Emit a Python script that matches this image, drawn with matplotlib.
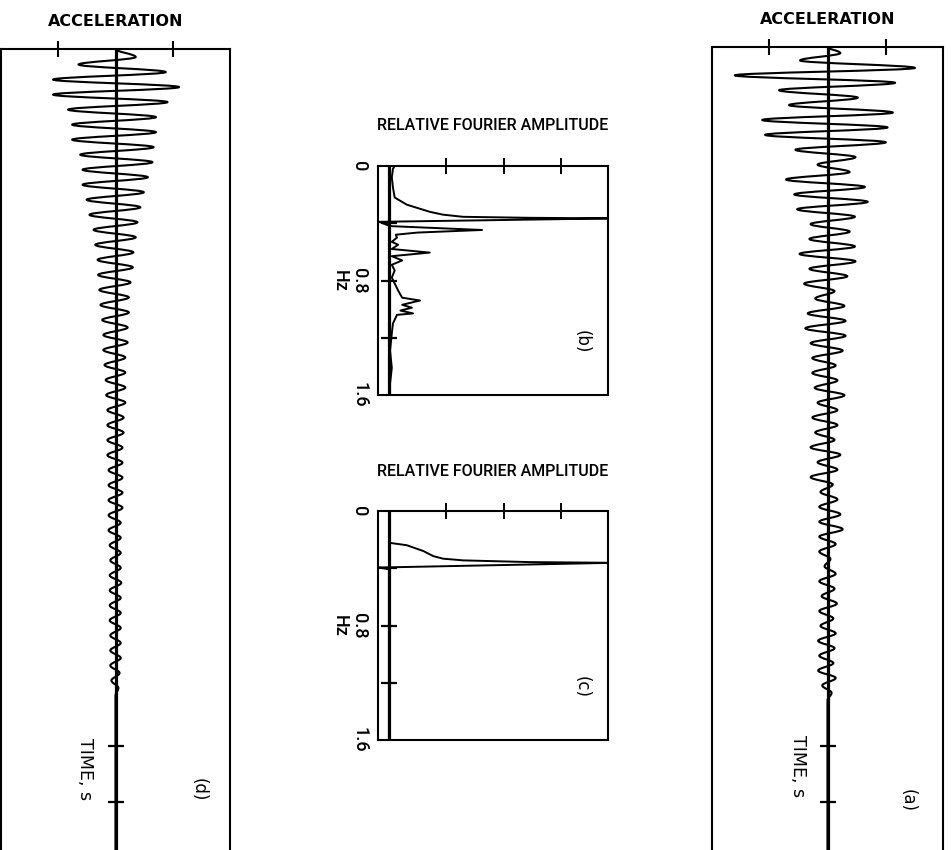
import matplotlib
matplotlib.use("Agg")
import matplotlib.pyplot as plt
import numpy as np
from matplotlib import font_manager
from matplotlib.path import Path
from matplotlib.patches import PathPatch

W, H = 951, 850

# acceleration records, successive peaks (relative units, tick = 1), time in s
acc_d_peaks = [0.35, -0.64, 0.87, -1.08, 1.10, -1.08, 0.90, -0.82, 0.70, -0.75,
               0.70, -0.75, 0.66, -0.61, 0.64, -0.57, 0.56, -0.57, 0.49, -0.50,
               0.43, -0.45, 0.38, -0.38, 0.35, -0.35, 0.31, -0.31, 0.30, -0.30,
               0.26, -0.28, 0.23, -0.26, 0.23, -0.23, 0.21, -0.21, 0.21, -0.21,
               0.17, -0.19, 0.17, -0.17, 0.17, -0.16, 0.17, -0.14, 0.14, -0.14,
               0.14, -0.14, 0.12, -0.14, 0.12, -0.12, 0.12, -0.12, 0.12, -0.12,
               0.12, -0.12, 0.09, -0.12, 0.09, -0.10, 0.09, -0.09, 0.09, -0.10,
               0.10, -0.10, 0.09, -0.10, 0.09, -0.10, 0.09, -0.09, 0.09, -0.09,
               0.09, -0.09, 0.07, -0.07, 0.05]
acc_d_first = 1.43    # s, time of first peak
acc_d_half = 1.336    # s, half period

acc_a_peaks = [0.22, -0.47, 1.50, -1.59, 1.16, -0.83, 0.52, -0.66, 1.12, -1.12,
               1.03, -1.07, 1.00, -0.55, 0.48, -0.17, 0.38, -0.71, 0.64, -0.57,
               0.69, -0.52, 0.47, -0.29, 0.38, -0.31, 0.47, -0.48, 0.48, -0.31,
               0.34, -0.40, 0.12, -0.21, 0.29, -0.34, 0.31, -0.38, 0.31, -0.29,
               0.26, -0.26, 0.14, -0.26, 0.17, -0.22, 0.29, -0.17, 0.17, -0.26,
               0.17, -0.21, 0.12, -0.29, 0.22, -0.17, 0.17, -0.29, 0.09, -0.12,
               0.17, -0.14, 0.22, -0.14, 0.26, -0.14, 0.14, -0.14, 0.05, -0.05,
               0.14, -0.14, 0.12, -0.10, 0.16, -0.14, 0.10, -0.12, 0.14, -0.16,
               0.12, -0.14, 0.10, -0.16, 0.14, -0.09, 0.07]
acc_a_first = 1.07
acc_a_half = 1.32

time_max = 143
time_ticks = [124, 134]
acc_ticks = [-1, 1]

# relative Fourier amplitude spectra
freq_b = [0.00, 0.02, 0.08, 0.15, 0.22, 0.27, 0.32, 0.34, 0.355, 0.362, 0.366,
          0.39, 0.42, 0.447, 0.465, 0.48, 0.50, 0.53, 0.55, 0.58, 0.605, 0.63,
          0.66, 0.69, 0.73, 0.78, 0.82, 0.87, 0.92, 0.94, 0.97, 0.99, 1.01,
          1.03, 1.04, 1.10, 1.17, 1.29, 1.41, 1.52, 1.60]
amp_b = [0.10, 0.07, 0.05, 0.07, 0.10, 0.31, 0.71, 0.94, 1.29, 2.45, 3.90,
         -0.17, 0.02, 1.62, 0.50, 0.12, 0.14, 0.05, 0.16, 0.05, 0.71, 0.05,
         0.23, 0.05, 0.10, 0.05, 0.10, 0.16, 0.23, 0.54, 0.23, 0.40, 0.20,
         0.42, 0.14, 0.07, 0.05, 0.02, 0.05, 0.02, 0.02]

freq_c = [0.00, 0.223, 0.239, 0.28, 0.315, 0.333, 0.345, 0.357, 0.362, 0.395, 0.407, 1.60]
amp_c = [0.00, 0.02, 0.31, 0.60, 0.77, 0.94, 1.29, 2.45, 3.90, -0.17, 0.00, 0.00]

freq_ticks = [0.4, 0.8, 1.2]
freq_label_pos = [0, 0.8, 1.6]
freq_labels = ["0", "0.8", "1.6"]
amp_ticks = [1, 2, 3]


def pick_family(names):
    avail = {f.name for f in font_manager.fontManager.ttflist}
    for n in names:
        if n in avail:
            return n
    return "DejaVu Sans"


narrow = pick_family(["Liberation Sans Narrow", "Roboto", "DejaVu Sans"])


def px_axes(fig, x0, y0, x1, y1):
    return fig.add_axes([x0 / W, 1 - y1 / H, (x1 - x0) / W, (y1 - y0) / H])


def smooth_trace(ax, t, a, lw=1.5):
    verts = [(a[0], t[0])]
    codes = [Path.MOVETO]
    for i in range(1, len(t)):
        h = 0.36 * (t[i] - t[i - 1])
        verts += [(a[i - 1], t[i - 1] + h), (a[i], t[i] - h), (a[i], t[i])]
        codes += [Path.CURVE4] * 3
    ax.add_patch(PathPatch(Path(verts, codes), fill=False, lw=lw, ec="black",
                           joinstyle="round", capstyle="round"))


def draw_acc(ax, peaks, first, half, tlabel_pos, tag_pos, tag):
    t = first + half * np.arange(len(peaks))
    times = [0] + list(t) + [t[-1] + half, time_max]
    vals = [0] + list(peaks) + [0, 0]
    ax.set_xlim(-1.98, 1.98)
    ax.set_ylim(time_max, 0)
    ax.spines["bottom"].set_visible(False)
    for s in ["top", "left", "right"]:
        ax.spines[s].set_linewidth(1.5)
    ax.xaxis.set_ticks_position("top")
    ax.set_xticks(acc_ticks)
    ax.set_xticklabels([])
    ax.tick_params(axis="x", direction="inout", length=11, width=1.5)
    ax.set_yticks([])
    ax.axvline(0, color="black", lw=2.3)
    ax.plot([0] * len(time_ticks), time_ticks, ls="none", marker="_",
            ms=11, mew=1.6, color="black")
    smooth_trace(ax, times, vals)
    ax.annotate("ACCELERATION", xy=(0.5, 1), xycoords="axes fraction",
                xytext=(0, 27), textcoords="offset pixels", ha="center",
                va="center", fontsize=11.5, fontweight="bold")
    ax.text(tlabel_pos[0], tlabel_pos[1], "TIME, s", rotation=-90,
            ha="center", va="center", fontsize=12.5)
    ax.text(tag_pos[0], tag_pos[1], tag, rotation=-90, ha="center",
            va="center", fontsize=12)


def draw_fourier(ax, freq, amp, tag):
    ax.set_xlim(-0.19, 3.81)
    ax.set_ylim(1.6, 0)
    for s in ax.spines.values():
        s.set_linewidth(1.5)
    ax.xaxis.set_ticks_position("top")
    ax.set_xticks(amp_ticks)
    ax.set_xticklabels([])
    ax.tick_params(axis="x", direction="inout", length=11, width=1.4)
    ax.set_yticks(freq_label_pos)
    ax.set_yticklabels(freq_labels, rotation=-90, va="center",
                       fontsize=13, family=narrow, fontweight="medium")
    ax.tick_params(axis="y", length=0, pad=7)
    ax.set_ylabel("Hz", rotation=-90, fontsize=13, family=narrow,
                  fontweight="medium", va="center")
    ax.yaxis.set_label_coords(-0.165, 0.5)
    ax.axvline(0, color="black", lw=2.3)
    ax.plot([0] * len(freq_ticks), freq_ticks, ls="none", marker="_",
            ms=12, mew=1.6, color="black")
    ax.plot(amp, freq, color="black", lw=1.4)
    ax.annotate("RELATIVE FOURIER AMPLITUDE", xy=(0.5, 1),
                xycoords="axes fraction", xytext=(0, 40),
                textcoords="offset pixels", ha="center", va="center",
                fontsize=11.5, family=narrow, fontweight="medium")
    ax.text(3.35, 1.23, tag, rotation=-90, ha="center", va="center",
            fontsize=12)


fig = plt.figure(figsize=(W / 100, H / 100), dpi=100)
fig.patch.set_facecolor("white")

ax_d = px_axes(fig, 1, 49, 230, 853)
draw_acc(ax_d, acc_d_peaks, acc_d_first, acc_d_half, (-0.52, 128), (1.44, 131.8), "(d)")

ax_a = px_axes(fig, 712, 47, 943, 853)
draw_acc(ax_a, acc_a_peaks, acc_a_first, acc_a_half, (-0.5, 127.5), (1.38, 133.6), "(a)")

ax_b = px_axes(fig, 378, 166, 608, 395)
draw_fourier(ax_b, freq_b, amp_b, "(b)")

ax_c = px_axes(fig, 378, 511, 608, 740)
draw_fourier(ax_c, freq_c, amp_c, "(c)")

fig.savefig("out.png", dpi=100, facecolor="white")
